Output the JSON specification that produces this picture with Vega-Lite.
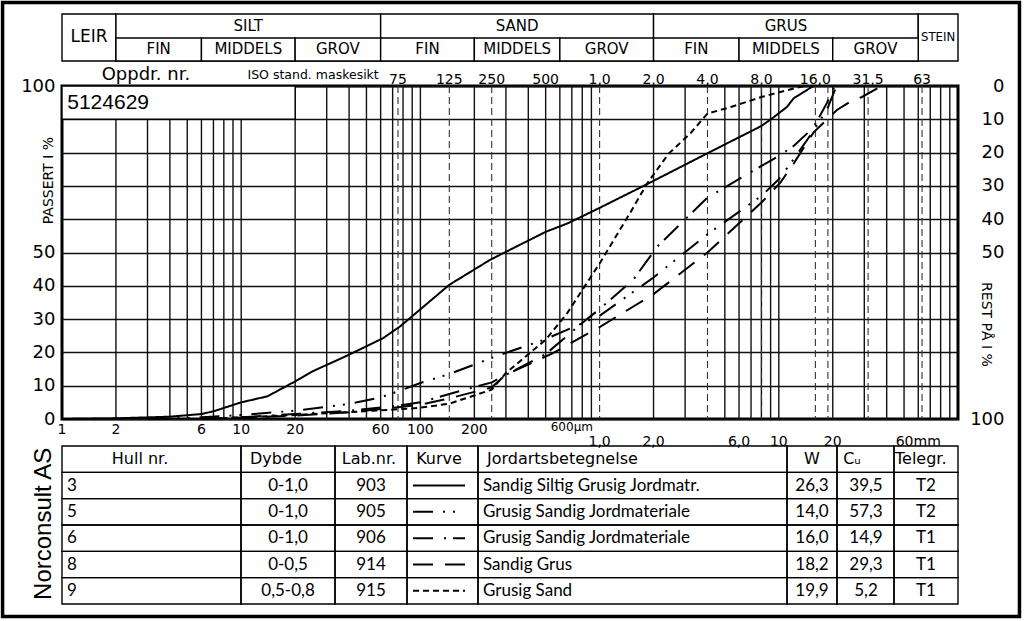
{
"$schema": "https://vega.github.io/schema/vega-lite/v6.json",
"width": 896,
"height": 333,
"autosize": {"type": "none"},
"padding": {"left": 62, "top": 86, "right": 66, "bottom": 202},
"background": "white",
"config": {
  "view": {"stroke": "black", "strokeWidth": 3},
  "font": "DejaVu Sans",
  "mark": {"color": "black"},
  "text": {"font": "DejaVu Sans", "color": "black"},
  "axis": {"labelColor": "black", "titleColor": "black", "labelFont": "DejaVu Sans", "titleFont": "DejaVu Sans"}
},
"datasets": {
  "rutenett": [
    {"g":0.002},{"g":0.003},{"g":0.004},{"g":0.005},{"g":0.006},{"g":0.007},{"g":0.008},{"g":0.009},
    {"g":0.01},{"g":0.02},{"g":0.03},{"g":0.04},{"g":0.05},{"g":0.06},{"g":0.07},{"g":0.08},{"g":0.09},
    {"g":0.1},{"g":0.2},{"g":0.3},{"g":0.4},{"g":0.5},{"g":0.6},{"g":0.7},{"g":0.8},{"g":0.9},
    {"g":2},{"g":3},{"g":5},{"g":6},{"g":7},{"g":8},{"g":9},
    {"g":10},{"g":20},{"g":30},{"g":40},{"g":50},{"g":60},{"g":70},{"g":80},{"g":90}
  ],
  "kurver": [
    {"lab":"903","d":0.001,"p":0},{"lab":"903","d":0.002,"p":0.2},{"lab":"903","d":0.004,"p":0.7},{"lab":"903","d":0.006,"p":1.5},{"lab":"903","d":0.007,"p":2.3},{"lab":"903","d":0.01,"p":5},{"lab":"903","d":0.014,"p":6.8},{"lab":"903","d":0.02,"p":11.3},{"lab":"903","d":0.025,"p":14.3},{"lab":"903","d":0.04,"p":19.3},{"lab":"903","d":0.062,"p":24.3},{"lab":"903","d":0.077,"p":27.8},{"lab":"903","d":0.092,"p":31.3},{"lab":"903","d":0.145,"p":40.3},{"lab":"903","d":0.245,"p":47.8},{"lab":"903","d":0.3,"p":50.2},{"lab":"903","d":0.5,"p":56.2},{"lab":"903","d":0.66,"p":58.7},{"lab":"903","d":1,"p":63.4},{"lab":"903","d":1.76,"p":70},{"lab":"903","d":4,"p":79.8},{"lab":"903","d":8,"p":88},{"lab":"903","d":9.4,"p":90.7},{"lab":"903","d":11.1,"p":93.7},{"lab":"903","d":12.1,"p":96.3},{"lab":"903","d":15.6,"p":100},
    {"lab":"905","d":0.003,"p":0},{"lab":"905","d":0.006,"p":0.5},{"lab":"905","d":0.01,"p":1.2},{"lab":"905","d":0.02,"p":2.5},{"lab":"905","d":0.04,"p":4.5},{"lab":"905","d":0.06,"p":6.5},{"lab":"905","d":0.075,"p":8.3},{"lab":"905","d":0.1,"p":10.8},{"lab":"905","d":0.145,"p":13.5},{"lab":"905","d":0.27,"p":19},{"lab":"905","d":0.49,"p":23.8},{"lab":"905","d":1,"p":31},{"lab":"905","d":2,"p":42.5},{"lab":"905","d":4,"p":55.5},{"lab":"905","d":8,"p":67},{"lab":"905","d":10,"p":72},{"lab":"905","d":12.1,"p":78},{"lab":"905","d":15.6,"p":86.5},{"lab":"905","d":18.6,"p":93},{"lab":"905","d":21,"p":100},
    {"lab":"906","d":0.006,"p":0},{"lab":"906","d":0.01,"p":0.5},{"lab":"906","d":0.02,"p":1.5},{"lab":"906","d":0.04,"p":2.5},{"lab":"906","d":0.075,"p":4},{"lab":"906","d":0.1,"p":5},{"lab":"906","d":0.145,"p":7.5},{"lab":"906","d":0.25,"p":11},{"lab":"906","d":0.5,"p":19.5},{"lab":"906","d":0.85,"p":30},{"lab":"906","d":1,"p":33},{"lab":"906","d":1.55,"p":42},{"lab":"906","d":2.1,"p":51.8},{"lab":"906","d":4,"p":66.5},{"lab":"906","d":8,"p":76},{"lab":"906","d":10,"p":79},{"lab":"906","d":12.1,"p":82},{"lab":"906","d":15.6,"p":87.5},{"lab":"906","d":18.6,"p":95},{"lab":"906","d":20.5,"p":100},
    {"lab":"914","d":0.006,"p":0},{"lab":"914","d":0.02,"p":1},{"lab":"914","d":0.04,"p":2},{"lab":"914","d":0.075,"p":3.5},{"lab":"914","d":0.1,"p":4.3},{"lab":"914","d":0.145,"p":6.2},{"lab":"914","d":0.25,"p":9.5},{"lab":"914","d":0.3,"p":13.3},{"lab":"914","d":0.55,"p":19.8},{"lab":"914","d":1,"p":27.6},{"lab":"914","d":2,"p":37.5},{"lab":"914","d":4,"p":50},{"lab":"914","d":8,"p":65},{"lab":"914","d":10.2,"p":71},{"lab":"914","d":12.1,"p":76.7},{"lab":"914","d":15.6,"p":86},{"lab":"914","d":18.6,"p":90},{"lab":"914","d":21.1,"p":92.8},{"lab":"914","d":25.1,"p":95.3},{"lab":"914","d":29.1,"p":96.7},{"lab":"914","d":36,"p":99.5},{"lab":"914","d":37,"p":100},
    {"lab":"915","d":0.006,"p":0},{"lab":"915","d":0.01,"p":0.5},{"lab":"915","d":0.02,"p":1.2},{"lab":"915","d":0.044,"p":2.2},{"lab":"915","d":0.08,"p":3},{"lab":"915","d":0.1,"p":3.4},{"lab":"915","d":0.145,"p":4.6},{"lab":"915","d":0.25,"p":8.8},{"lab":"915","d":0.3,"p":13.8},{"lab":"915","d":0.5,"p":23.8},{"lab":"915","d":0.66,"p":31.8},{"lab":"915","d":1,"p":46.7},{"lab":"915","d":1.48,"p":61.9},{"lab":"915","d":1.84,"p":70.7},{"lab":"915","d":2.43,"p":79.7},{"lab":"915","d":3.2,"p":85.7},{"lab":"915","d":4,"p":91.7},{"lab":"915","d":5.4,"p":93.7},{"lab":"915","d":8,"p":96.7},{"lab":"915","d":13.1,"p":99.7},{"lab":"915","d":14,"p":100}
  ],
  "sikter": [
    {"size":0.075,"label":"75"},{"size":0.145,"label":"125"},{"size":0.25,"label":"250"},{"size":0.5,"label":"500"},{"size":1,"label":"1,0"},{"size":2,"label":"2,0"},{"size":4,"label":"4,0"},{"size":8,"label":"8,0"},{"size":16,"label":"16,0"},{"size":18.8,"label":""},{"size":31.5,"label":"31,5"},{"size":63,"label":"63"}
  ],
  "klasser": [
    {"klasse":"LEIR","lo":0.001,"hi":0.002,"nivaa":"hel"},
    {"klasse":"SILT","lo":0.002,"hi":0.06,"nivaa":"hoved"},
    {"klasse":"SAND","lo":0.06,"hi":2,"nivaa":"hoved"},
    {"klasse":"GRUS","lo":2,"hi":60,"nivaa":"hoved"},
    {"klasse":"STEIN","lo":60,"hi":100,"nivaa":"hel"},
    {"klasse":"FIN","lo":0.002,"hi":0.006,"nivaa":"under"},
    {"klasse":"MIDDELS","lo":0.006,"hi":0.02,"nivaa":"under"},
    {"klasse":"GROV","lo":0.02,"hi":0.06,"nivaa":"under"},
    {"klasse":"FIN","lo":0.06,"hi":0.2,"nivaa":"under"},
    {"klasse":"MIDDELS","lo":0.2,"hi":0.6,"nivaa":"under"},
    {"klasse":"GROV","lo":0.6,"hi":2,"nivaa":"under"},
    {"klasse":"FIN","lo":2,"hi":6,"nivaa":"under"},
    {"klasse":"MIDDELS","lo":6,"hi":20,"nivaa":"under"},
    {"klasse":"GROV","lo":20,"hi":60,"nivaa":"under"}
  ],
  "aksetekst": [
    {"v":0.001,"t":"1"},{"v":0.002,"t":"2"},{"v":0.006,"t":"6"},{"v":0.01,"t":"10"},{"v":0.02,"t":"20"},{"v":0.06,"t":"60"},{"v":0.1,"t":"100"},{"v":0.2,"t":"200"},{"v":0.6,"t":"600µm"},{"v":1,"t":"1,0"},{"v":2,"t":"2,0"},{"v":6,"t":"6,0"},{"v":10,"t":"10"},{"v":20,"t":"20"},{"v":60,"t":"60mm"}
  ],
  "prover": [
    {"hdr":true,"hull":"Hull nr.","dybde":"Dybde","lab":"Lab.nr.","kurve":"Kurve","jord":"Jordartsbetegnelse","w":"W","cu":"Cᵤ","tel":"Telegr."},
    {"hdr":false,"hull":"3","dybde":"0-1,0","lab":"903","jord":"Sandig Siltig Grusig Jordmatr.","w":"26,3","cu":"39,5","tel":"T2"},
    {"hdr":false,"hull":"5","dybde":"0-1,0","lab":"905","jord":"Grusig Sandig Jordmateriale","w":"14,0","cu":"57,3","tel":"T2"},
    {"hdr":false,"hull":"6","dybde":"0-1,0","lab":"906","jord":"Grusig Sandig Jordmateriale","w":"16,0","cu":"14,9","tel":"T1"},
    {"hdr":false,"hull":"8","dybde":"0-0,5","lab":"914","jord":"Sandig Grus","w":"18,2","cu":"29,3","tel":"T1"},
    {"hdr":false,"hull":"9","dybde":"0,5-0,8","lab":"915","jord":"Grusig Sand","w":"19,9","cu":"5,2","tel":"T1"}
  ]
},
"layer": [
  {
    "resolve": {"axis": {"y": "independent"}},
    "layer": [
      {
        "data": {"name": "rutenett"},
        "mark": {"type": "rule", "strokeWidth": 1.4, "color": "#111111"},
        "encoding": {"x": {"field": "g", "type": "quantitative", "scale": {"type": "log", "domain": [0.001, 100], "nice": false}, "axis": null}}
      },
      {
        "data": {"values": [{"oppdrag": "5124629"}]},
        "mark": {"type": "rect", "fill": "white", "stroke": "black", "strokeWidth": 1.4},
        "encoding": {
          "x": {"datum": 0.001, "type": "quantitative", "axis": null},
          "x2": {"datum": 0.02},
          "y": {"datum": 90, "type": "quantitative", "scale": {"domain": [0, 100], "nice": false, "zero": false},
                "axis": {"orient": "left", "values": [0,10,20,30,40,50,60,70,80,90,100],
                         "labelExpr": "datum.value > 50 && datum.value < 100 ? '' : datum.label",
                         "grid": true, "gridColor": "#111111", "gridWidth": 1.4, "ticks": false, "domain": false,
                         "labelFontSize": 18, "labelPadding": 7, "labelOverlap": false,
                         "title": "PASSERT I %", "titleFontSize": 14, "titleFontWeight": "normal", "titleAngle": 270,
                         "titleX": -14, "titleY": 94, "titleAlign": "center", "titleBaseline": "middle", "zindex": 0}},
          "y2": {"datum": 100}
        }
      },
      {
        "data": {"values": [{"oppdrag": "5124629"}]},
        "mark": {"type": "text", "font": "Liberation Sans", "fontSize": 21, "align": "left", "baseline": "middle"},
        "encoding": {
          "x": {"datum": 0.00107, "type": "quantitative", "axis": null},
          "y": {"datum": 95, "type": "quantitative", "axis": null},
          "text": {"field": "oppdrag"}
        }
      },
      {
        "data": {"name": "sikter"},
        "transform": [{"filter": "datum.size != 0.5 && datum.size != 2"}],
        "mark": {"type": "rule", "strokeDash": [7, 4], "strokeWidth": 1.1, "color": "#333333"},
        "encoding": {"x": {"field": "size", "type": "quantitative", "axis": null}}
      },
      {
        "data": {"name": "sikter"},
        "transform": [{"filter": "datum.label != ''"}],
        "mark": {"type": "text", "fontSize": 14, "baseline": "alphabetic", "dy": -2},
        "encoding": {
          "x": {"field": "size", "type": "quantitative", "axis": null},
          "y": {"datum": 100, "type": "quantitative", "axis": null},
          "text": {"field": "label"}
        }
      },
      {
        "data": {"name": "kurver"},
        "mark": {"type": "line", "strokeWidth": 2, "color": "black"},
        "encoding": {
          "x": {"field": "d", "type": "quantitative", "axis": null},
          "y": {"field": "p", "type": "quantitative",
                "axis": {"orient": "right", "values": [0,50,60,70,80,90,100], "labelExpr": "format(100 - datum.value, 'd')",
                         "grid": false, "ticks": false, "domain": false, "labelFontSize": 18, "labelAlign": "right",
                         "labelPadding": 46, "labelOverlap": false,
                         "title": "REST PÅ I %", "titleFontSize": 14, "titleFontWeight": "normal", "titleAngle": 90,
                         "titleX": 27, "titleY": 238, "titleAlign": "center", "titleBaseline": "middle"}},
          "strokeDash": {"field": "lab", "type": "nominal", "legend": null,
                         "scale": {"domain": ["903","905","906","914","915"], "range": [[1,0],[20,10,2,8,2,10],[20,11,2,7],[20,12],[6,4]]}}
        }
      },
      {
        "data": {"name": "aksetekst"},
        "transform": [{"filter": "datum.v < 0.5"}],
        "mark": {"type": "text", "fontSize": 14, "baseline": "top", "dy": 4},
        "encoding": {
          "x": {"field": "v", "type": "quantitative", "axis": null},
          "y": {"datum": 0, "type": "quantitative", "axis": null},
          "text": {"field": "t"}
        }
      },
      {
        "data": {"name": "aksetekst"},
        "transform": [{"filter": "datum.v > 0.5 && datum.v < 0.7"}],
        "mark": {"type": "text", "fontSize": 12, "baseline": "top", "dy": 3, "dx": 12},
        "encoding": {
          "x": {"field": "v", "type": "quantitative", "axis": null},
          "y": {"datum": 0, "type": "quantitative", "axis": null},
          "text": {"field": "t"}
        }
      },
      {
        "data": {"name": "aksetekst"},
        "transform": [{"filter": "datum.v >= 1"}],
        "mark": {"type": "text", "fontSize": 14, "baseline": "top", "dy": 16},
        "encoding": {
          "x": {"field": "v", "type": "quantitative", "axis": null},
          "y": {"datum": 0, "type": "quantitative", "axis": null},
          "text": {"field": "t"}
        }
      },
      {
        "data": {"name": "klasser"},
        "transform": [{"filter": "datum.nivaa != 'under'"}],
        "mark": {"type": "rect", "fill": "white", "stroke": "black", "strokeWidth": 1.4},
        "encoding": {
          "x": {"field": "lo", "type": "quantitative", "axis": null},
          "x2": {"field": "hi"},
          "y": {"datum": 121.6, "type": "quantitative", "axis": null},
          "y2": {"datum": 107.5}
        }
      },
      {
        "data": {"name": "klasser"},
        "transform": [{"filter": "datum.nivaa == 'under'"}],
        "mark": {"type": "rect", "fill": "white", "stroke": "black", "strokeWidth": 1.4},
        "encoding": {
          "x": {"field": "lo", "type": "quantitative", "axis": null},
          "x2": {"field": "hi"},
          "y": {"datum": 114.4, "type": "quantitative", "axis": null},
          "y2": {"datum": 107.5}
        }
      },
      {
        "data": {"name": "klasser"},
        "transform": [{"filter": "datum.nivaa == 'hoved'"}, {"calculate": "sqrt(datum.lo * datum.hi)", "as": "midt"}],
        "mark": {"type": "text", "fontSize": 15, "baseline": "middle"},
        "encoding": {
          "x": {"field": "midt", "type": "quantitative", "axis": null},
          "y": {"datum": 118, "type": "quantitative", "axis": null},
          "text": {"field": "klasse"}
        }
      },
      {
        "data": {"name": "klasser"},
        "transform": [{"filter": "datum.nivaa == 'under'"}, {"calculate": "sqrt(datum.lo * datum.hi)", "as": "midt"}],
        "mark": {"type": "text", "fontSize": 15, "baseline": "middle"},
        "encoding": {
          "x": {"field": "midt", "type": "quantitative", "axis": null},
          "y": {"datum": 111, "type": "quantitative", "axis": null},
          "text": {"field": "klasse"}
        }
      },
      {
        "data": {"name": "klasser"},
        "transform": [{"filter": "datum.klasse == 'LEIR'"}, {"calculate": "sqrt(datum.lo * datum.hi)", "as": "midt"}],
        "mark": {"type": "text", "fontSize": 17, "baseline": "middle"},
        "encoding": {
          "x": {"field": "midt", "type": "quantitative", "axis": null},
          "y": {"datum": 114.6, "type": "quantitative", "axis": null},
          "text": {"field": "klasse"}
        }
      },
      {
        "data": {"name": "klasser"},
        "transform": [{"filter": "datum.klasse == 'STEIN'"}, {"calculate": "sqrt(datum.lo * datum.hi)", "as": "midt"}],
        "mark": {"type": "text", "font": "DejaVu Sans Condensed, DejaVu Sans", "fontSize": 13, "baseline": "middle"},
        "encoding": {
          "x": {"field": "midt", "type": "quantitative", "axis": null},
          "y": {"datum": 114.6, "type": "quantitative", "axis": null},
          "text": {"field": "klasse"}
        }
      },
      {
        "data": {"values": [{}]},
        "mark": {"type": "text", "text": "Oppdr. nr.", "fontSize": 18, "baseline": "middle"},
        "encoding": {
          "x": {"datum": 0.00294, "type": "quantitative", "axis": null},
          "y": {"datum": 103.4, "type": "quantitative", "axis": null}
        }
      },
      {
        "data": {"values": [{}]},
        "mark": {"type": "text", "text": "ISO stand. maskesikt", "fontSize": 12.5, "baseline": "middle"},
        "encoding": {
          "x": {"datum": 0.0252, "type": "quantitative", "axis": null},
          "y": {"datum": 103.4, "type": "quantitative", "axis": null}
        }
      },
      {
        "data": {"values": [{}]},
        "mark": {"type": "rect", "fillOpacity": 0, "stroke": "black", "strokeWidth": 3.5},
        "encoding": {
          "x": {"datum": 0.000466, "type": "quantitative", "axis": null},
          "x2": {"datum": 220.3},
          "y": {"datum": 125.1, "type": "quantitative", "axis": null},
          "y2": {"datum": -59.3}
        }
      },
      {
        "data": {"values": [{}]},
        "mark": {"type": "text", "text": "Norconsult AS", "font": "Liberation Sans", "fontSize": 24, "angle": 270, "baseline": "middle", "align": "center"},
        "encoding": {
          "x": {"datum": 0.000794, "type": "quantitative", "axis": null},
          "y": {"datum": -31.5, "type": "quantitative", "axis": null}
        }
      }
    ]
  },
  {
    "data": {"name": "prover"},
    "encoding": {
      "y": {"field": "lab", "type": "ordinal",
            "scale": {"type": "band", "domain": ["Lab.nr.","903","905","906","914","915"], "range": [360, 518], "paddingInner": 0, "paddingOuter": 0},
            "axis": null}
    },
    "layer": [
      {"mark": {"type": "rect", "fillOpacity": 0, "stroke": "black", "strokeWidth": 1.4},
       "encoding": {"x": {"datum": 0, "type": "quantitative", "scale": {"domain": [0, 896], "nice": false, "zero": false}, "axis": null}, "x2": {"datum": 179}}},
      {"mark": {"type": "rect", "fillOpacity": 0, "stroke": "black", "strokeWidth": 1.4},
       "encoding": {"x": {"datum": 179, "type": "quantitative", "scale": {"domain": [0, 896], "nice": false, "zero": false}, "axis": null}, "x2": {"datum": 273}}},
      {"mark": {"type": "rect", "fillOpacity": 0, "stroke": "black", "strokeWidth": 1.4},
       "encoding": {"x": {"datum": 273, "type": "quantitative", "scale": {"domain": [0, 896], "nice": false, "zero": false}, "axis": null}, "x2": {"datum": 345}}},
      {"mark": {"type": "rect", "fillOpacity": 0, "stroke": "black", "strokeWidth": 1.4},
       "encoding": {"x": {"datum": 345, "type": "quantitative", "scale": {"domain": [0, 896], "nice": false, "zero": false}, "axis": null}, "x2": {"datum": 416}}},
      {"mark": {"type": "rect", "fillOpacity": 0, "stroke": "black", "strokeWidth": 1.4},
       "encoding": {"x": {"datum": 416, "type": "quantitative", "scale": {"domain": [0, 896], "nice": false, "zero": false}, "axis": null}, "x2": {"datum": 725}}},
      {"mark": {"type": "rect", "fillOpacity": 0, "stroke": "black", "strokeWidth": 1.4},
       "encoding": {"x": {"datum": 725, "type": "quantitative", "scale": {"domain": [0, 896], "nice": false, "zero": false}, "axis": null}, "x2": {"datum": 775}}},
      {"mark": {"type": "rect", "fillOpacity": 0, "stroke": "black", "strokeWidth": 1.4},
       "encoding": {"x": {"datum": 775, "type": "quantitative", "scale": {"domain": [0, 896], "nice": false, "zero": false}, "axis": null}, "x2": {"datum": 832}}},
      {"mark": {"type": "rect", "fillOpacity": 0, "stroke": "black", "strokeWidth": 1.4},
       "encoding": {"x": {"datum": 832, "type": "quantitative", "scale": {"domain": [0, 896], "nice": false, "zero": false}, "axis": null}, "x2": {"datum": 896}}},
      {"transform": [{"filter": "!datum.hdr"}],
       "mark": {"type": "rule", "strokeWidth": 2},
       "encoding": {"x": {"datum": 351, "type": "quantitative", "scale": {"domain": [0, 896], "nice": false, "zero": false}, "axis": null}, "x2": {"datum": 403},
                    "strokeDash": {"field": "lab", "type": "nominal", "legend": null,
                                   "scale": {"domain": ["903","905","906","914","915"], "range": [[1,0],[20,10,2,8,2,10],[20,11,2,7],[20,12],[6,4]]}}}},
      {"transform": [{"filter": "!datum.hdr"}],
       "mark": {"type": "text", "font": "Lato", "fontSize": 17, "align": "left", "baseline": "middle"},
       "encoding": {"x": {"datum": 5, "type": "quantitative", "scale": {"domain": [0, 896], "nice": false, "zero": false}, "axis": null}, "text": {"field": "hull"}}},
      {"transform": [{"filter": "!datum.hdr"}],
       "mark": {"type": "text", "font": "Lato", "fontSize": 17, "align": "center", "baseline": "middle"},
       "encoding": {"x": {"datum": 226, "type": "quantitative", "scale": {"domain": [0, 896], "nice": false, "zero": false}, "axis": null}, "text": {"field": "dybde"}}},
      {"transform": [{"filter": "!datum.hdr"}],
       "mark": {"type": "text", "font": "Lato", "fontSize": 17, "align": "center", "baseline": "middle"},
       "encoding": {"x": {"datum": 309, "type": "quantitative", "scale": {"domain": [0, 896], "nice": false, "zero": false}, "axis": null}, "text": {"field": "lab"}}},
      {"transform": [{"filter": "!datum.hdr"}],
       "mark": {"type": "text", "font": "Lato", "fontSize": 17, "align": "left", "baseline": "middle"},
       "encoding": {"x": {"datum": 421, "type": "quantitative", "scale": {"domain": [0, 896], "nice": false, "zero": false}, "axis": null}, "text": {"field": "jord"}}},
      {"transform": [{"filter": "!datum.hdr"}],
       "mark": {"type": "text", "font": "Lato", "fontSize": 17, "align": "center", "baseline": "middle"},
       "encoding": {"x": {"datum": 750, "type": "quantitative", "scale": {"domain": [0, 896], "nice": false, "zero": false}, "axis": null}, "text": {"field": "w"}}},
      {"transform": [{"filter": "!datum.hdr"}],
       "mark": {"type": "text", "font": "Lato", "fontSize": 17, "align": "center", "baseline": "middle"},
       "encoding": {"x": {"datum": 804, "type": "quantitative", "scale": {"domain": [0, 896], "nice": false, "zero": false}, "axis": null}, "text": {"field": "cu"}}},
      {"transform": [{"filter": "!datum.hdr"}],
       "mark": {"type": "text", "font": "Lato", "fontSize": 17, "align": "center", "baseline": "middle"},
       "encoding": {"x": {"datum": 864, "type": "quantitative", "scale": {"domain": [0, 896], "nice": false, "zero": false}, "axis": null}, "text": {"field": "tel"}}},
      {"transform": [{"filter": "datum.hdr"}],
       "mark": {"type": "text", "fontSize": 16, "align": "center", "baseline": "middle"},
       "encoding": {"x": {"datum": 78, "type": "quantitative", "scale": {"domain": [0, 896], "nice": false, "zero": false}, "axis": null}, "text": {"field": "hull"}}},
      {"transform": [{"filter": "datum.hdr"}],
       "mark": {"type": "text", "fontSize": 16, "align": "center", "baseline": "middle"},
       "encoding": {"x": {"datum": 214, "type": "quantitative", "scale": {"domain": [0, 896], "nice": false, "zero": false}, "axis": null}, "text": {"field": "dybde"}}},
      {"transform": [{"filter": "datum.hdr"}],
       "mark": {"type": "text", "fontSize": 16, "align": "center", "baseline": "middle"},
       "encoding": {"x": {"datum": 307, "type": "quantitative", "scale": {"domain": [0, 896], "nice": false, "zero": false}, "axis": null}, "text": {"field": "lab"}}},
      {"transform": [{"filter": "datum.hdr"}],
       "mark": {"type": "text", "fontSize": 16, "align": "center", "baseline": "middle"},
       "encoding": {"x": {"datum": 377, "type": "quantitative", "scale": {"domain": [0, 896], "nice": false, "zero": false}, "axis": null}, "text": {"field": "kurve"}}},
      {"transform": [{"filter": "datum.hdr"}],
       "mark": {"type": "text", "fontSize": 16, "align": "left", "baseline": "middle"},
       "encoding": {"x": {"datum": 425, "type": "quantitative", "scale": {"domain": [0, 896], "nice": false, "zero": false}, "axis": null}, "text": {"field": "jord"}}},
      {"transform": [{"filter": "datum.hdr"}],
       "mark": {"type": "text", "fontSize": 16, "align": "center", "baseline": "middle"},
       "encoding": {"x": {"datum": 750, "type": "quantitative", "scale": {"domain": [0, 896], "nice": false, "zero": false}, "axis": null}, "text": {"field": "w"}}},
      {"transform": [{"filter": "datum.hdr"}],
       "mark": {"type": "text", "fontSize": 16, "align": "center", "baseline": "middle"},
       "encoding": {"x": {"datum": 790, "type": "quantitative", "scale": {"domain": [0, 896], "nice": false, "zero": false}, "axis": null}, "text": {"field": "cu"}}},
      {"transform": [{"filter": "datum.hdr"}],
       "mark": {"type": "text", "fontSize": 16, "align": "left", "baseline": "middle"},
       "encoding": {"x": {"datum": 833, "type": "quantitative", "scale": {"domain": [0, 896], "nice": false, "zero": false}, "axis": null}, "text": {"field": "tel"}}}
    ]
  }
],
"resolve": {"scale": {"x": "independent", "y": "independent"}}
}
